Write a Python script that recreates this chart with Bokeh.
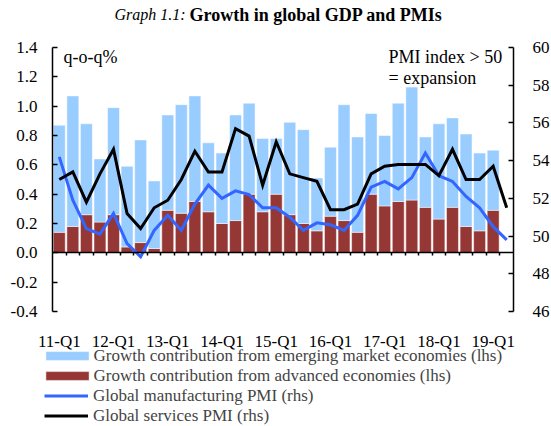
from bokeh.plotting import figure
from bokeh.models import (Range1d, LinearAxis, FixedTicker, PrintfTickFormatter,
                          Label, Legend, LegendItem, ColumnDataSource)
from bokeh.embed import file_html
from bokeh.resources import INLINE

# ---------------- data ----------------
quarters = ["11-Q1", "11-Q2", "11-Q3", "11-Q4", "12-Q1", "12-Q2", "12-Q3", "12-Q4",
            "13-Q1", "13-Q2", "13-Q3", "13-Q4", "14-Q1", "14-Q2", "14-Q3", "14-Q4",
            "15-Q1", "15-Q2", "15-Q3", "15-Q4", "16-Q1", "16-Q2", "16-Q3", "16-Q4",
            "17-Q1", "17-Q2", "17-Q3", "17-Q4", "18-Q1", "18-Q2", "18-Q3", "18-Q4",
            "19-Q1", "19-Q2"]

advanced = [0.14, 0.18, 0.26, 0.21, 0.26, 0.04, 0.07, 0.03, 0.29, 0.27, 0.35,
            0.28, 0.20, 0.22, 0.40, 0.28, 0.40, 0.26, 0.20, 0.15, 0.25, 0.22,
            0.14, 0.40, 0.32, 0.35, 0.36, 0.31, 0.23, 0.31, 0.18, 0.15, 0.29]

emerging = [0.73, 0.89, 0.62, 0.43, 0.73, 0.55, 0.70, 0.46, 0.65, 0.74, 0.72,
            0.47, 0.48, 0.72, 0.62, 0.50, 0.38, 0.63, 0.64, 0.36, 0.47, 0.79,
            0.65, 0.55, 0.48, 0.67, 0.77, 0.48, 0.65, 0.61, 0.63, 0.53, 0.41]

manufacturing_pmi = [54.2, 51.9, 50.4, 50.1, 51.2, 49.6, 48.9, 50.3, 51.1, 50.3,
                     51.7, 52.7, 52.0, 52.4, 52.2, 51.5, 51.5, 51.0, 50.3, 50.7,
                     50.6, 50.3, 51.1, 52.6, 52.9, 52.5, 53.1, 54.4, 53.2, 52.9,
                     52.1, 51.5, 50.5, 49.8]

services_pmi = [53.0, 53.4, 51.8, 53.3, 54.6, 51.2, 50.4, 51.5, 51.9, 53.0,
                54.5, 53.4, 53.4, 55.7, 55.3, 52.7, 55.0, 53.3, 53.1, 52.9,
                51.4, 51.4, 51.7, 53.3, 53.7, 53.8, 53.8, 53.8, 53.2, 54.6,
                53.0, 53.0, 53.7, 51.5]

tick_labels = ["11-Q1", "12-Q1", "13-Q1", "14-Q1", "15-Q1", "16-Q1", "17-Q1",
               "18-Q1", "19-Q1"]
lhs_ticks = [-0.4, -0.2, 0.0, 0.2, 0.4, 0.6, 0.8, 1.0, 1.2, 1.4]
rhs_ticks = [46, 48, 50, 52, 54, 56, 58, 60]

FONT = "Liberation Serif"
BLUE_BAR = "#99ccff"
RED_BAR = "#953735"
BLUE_LINE = "#3366ff"

# ---------------- layout (pixels) ----------------
W, H = 551, 426
PX_L, PX_R, PX_T, PX_B = 52, 513, 47, 311   # data area inside the canvas


def horiz(lo, hi):
    s = (hi - lo) / (PX_R - PX_L)
    return lo - PX_L * s, hi + (W - PX_R) * s


def vert(lo, hi):
    s = (hi - lo) / (PX_B - PX_T)
    return lo - (H - PX_B) * s, hi + PX_T * s


n = len(quarters)
x_lo, x_hi = -0.5, n - 0.5

bar_src = ColumnDataSource(dict(x=list(range(len(advanced))),
                                advanced=advanced, emerging=emerging))
line_src = ColumnDataSource(dict(x=list(range(n)), mfg=manufacturing_pmi,
                                 svc=services_pmi))

p = figure(width=W, height=H,
           x_range=Range1d(*horiz(x_lo, x_hi)),
           y_range=Range1d(*vert(lhs_ticks[0], lhs_ticks[-1])),
           output_backend="svg", toolbar_location=None,
           min_border_left=0, min_border_right=0,
           min_border_top=0, min_border_bottom=0)
p.extra_y_ranges = {"pmi": Range1d(*vert(rhs_ticks[0], rhs_ticks[-1]))}
p.outline_line_color = None
p.grid.visible = False

# left axis
ly = p.yaxis[0]
ly.fixed_location = x_lo
ly.bounds = (lhs_ticks[0], lhs_ticks[-1])
ly.ticker = FixedTicker(ticks=lhs_ticks)
ly.formatter = PrintfTickFormatter(format="%.1f")
ly.major_tick_in = 5
ly.major_tick_out = 0
ly.minor_tick_line_color = None
ly.axis_line_width = 1.5
ly.major_tick_line_width = 1.5
ly.major_label_standoff = 15
ly.major_label_text_font = FONT
ly.major_label_text_font_size = "17px"
ly.major_label_text_color = "black"

# right axis
ry = LinearAxis(y_range_name="pmi", ticker=FixedTicker(ticks=rhs_ticks),
                fixed_location=x_hi, bounds=(rhs_ticks[0], rhs_ticks[-1]))
ry.major_tick_in = 5
ry.major_tick_out = 0
ry.minor_tick_line_color = None
ry.axis_line_width = 1.5
ry.major_tick_line_width = 1.5
ry.major_label_standoff = 19
ry.major_label_text_font = FONT
ry.major_label_text_font_size = "17px"
ry.major_label_text_color = "black"
p.add_layout(ry, "right")

# bottom label axis
bx = p.xaxis[0]
bx.fixed_location = lhs_ticks[0]
bx.ticker = FixedTicker(ticks=[quarters.index(t) for t in tick_labels])
bx.major_label_overrides = {quarters.index(t): t for t in tick_labels}
bx.axis_line_color = None
bx.major_tick_line_color = None
bx.minor_tick_line_color = None
bx.major_label_standoff = 14
bx.major_label_text_font = FONT
bx.major_label_text_font_size = "17px"
bx.major_label_text_color = "black"

# zero-line axis with category boundary ticks
bounds_ticks = [i + 0.5 for i in range(len(advanced))]
zx = LinearAxis(fixed_location=0, bounds=(x_lo, x_hi),
                ticker=FixedTicker(ticks=bounds_ticks))
zx.major_label_overrides = {t: "" for t in bounds_ticks}
zx.major_tick_in = 0
zx.major_tick_out = 3
zx.major_tick_line_width = 1.5
zx.minor_tick_line_color = None
zx.axis_line_width = 1.5
p.add_layout(zx, "below")

# bars
bars = p.vbar_stack(["advanced", "emerging"], x="x", width=0.88,
                    color=[RED_BAR, BLUE_BAR], line_color="white",
                    line_width=0.5, source=bar_src)
adv_r, em_r = bars

# lines
mfg_r = p.line("x", "mfg", source=line_src, y_range_name="pmi",
               line_color=BLUE_LINE, line_width=3, line_join="miter")
svc_r = p.line("x", "svc", source=line_src, y_range_name="pmi",
               line_color="black", line_width=3, line_join="miter")

# legends (location = bottom-left corner in canvas pixels)
common = dict(spacing=0, padding=0, margin=0, border_line_color=None,
              background_fill_alpha=0, label_text_font=FONT,
              label_text_font_size="17px", label_height=20)
leg1 = Legend(items=[
    LegendItem(label="Growth contribution from emerging market economies (lhs)", renderers=[em_r]),
    LegendItem(label="Growth contribution from advanced economies (lhs)", renderers=[adv_r]),
], location=(39.6, 40.5), glyph_width=54, glyph_height=11, label_standoff=0, **common)
leg2 = Legend(items=[
    LegendItem(label="Global manufacturing PMI (rhs)", renderers=[mfg_r]),
    LegendItem(label="Global services PMI (rhs)", renderers=[svc_r]),
], location=(44, 0.5), glyph_width=44, glyph_height=11, label_standoff=5, **common)
p.add_layout(leg1)
p.add_layout(leg2)


# texts (screen pixels from the canvas bottom-left)
def lab(x, y, text, align="left", style="normal", size="17px"):
    p.add_layout(Label(x=x, y=y, x_units="screen", y_units="screen", text=text,
                       text_align=align, text_baseline="middle",
                       text_font=FONT, text_font_size=size,
                       text_font_style=style, text_color="black"))


lab(185, H - 14, "Graph 1.1:", align="right", style="italic", size="16px")
lab(189, H - 14, "Growth in global GDP and PMIs", style="bold", size="18px")
lab(63, H - 56, "q-o-q%", size="18px")
lab(388, H - 56, "PMI index > 50", size="18px")
lab(388, H - 77, "= expansion", size="18px")

open("out.html", "w").write(file_html(p, INLINE))
